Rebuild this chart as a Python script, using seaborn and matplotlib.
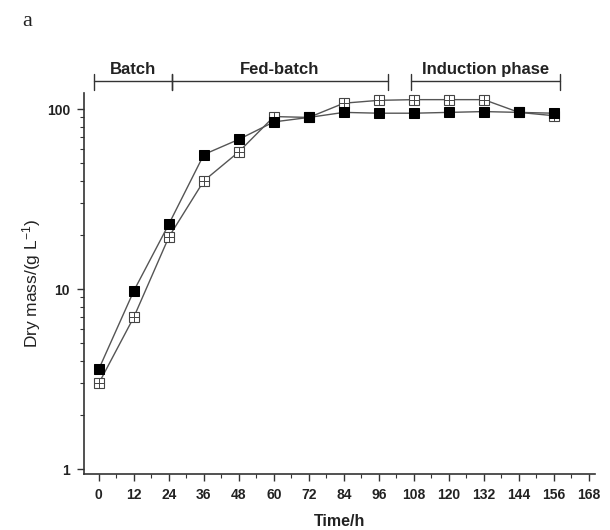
import matplotlib
matplotlib.use("Agg")
import matplotlib.pyplot as plt
import matplotlib.ticker as mticker
import matplotlib.transforms as mtrans
import seaborn as sns
import pandas as pd
import numpy as np

time_h = [0, 12, 24, 36, 48, 60, 72, 84, 96, 108, 120, 132, 144, 156]
series_filled = [3.6, 9.8, 23, 56, 68, 85, 90, 96, 95, 95, 96, 97, 96, 95]
series_open = [3.0, 7.0, 19.5, 40, 58, 91, 90, 108, 112, 113, 113, 113, 96, 92]
x_ticks = list(range(0, 169, 12))
phases = ["Batch", "Fed-batch", "Induction phase"]
phase_spans = [(-1.5, 25), (25, 99), (107, 158)]

sns.set_theme(style="ticks")
plt.rcParams['font.family'] = ['Liberation Sans', 'DejaVu Sans']
plt.rcParams['mathtext.fontset'] = 'custom'
plt.rcParams['mathtext.rm'] = 'Liberation Sans'
plt.rcParams['mathtext.it'] = 'Liberation Sans'

fig = plt.figure(figsize=(6.1, 5.3), dpi=100)
ax = fig.add_axes([0.1377, 0.1057, 0.975 - 0.1377, 0.8245 - 0.1057])

df = pd.DataFrame({"Time": time_h + time_h,
                   "Mass": series_filled + series_open,
                   "Series": ["filled"] * len(time_h) + ["open"] * len(time_h)})

line_col = "#555555"
sns.lineplot(data=df[df.Series == "filled"], x="Time", y="Mass", ax=ax,
             color=line_col, lw=1.0, marker="s", markersize=6.5,
             markerfacecolor="black", markeredgecolor="black", zorder=3)
sns.lineplot(data=df[df.Series == "open"], x="Time", y="Mass", ax=ax,
             color=line_col, lw=1.0, marker="s", markersize=6.5,
             markerfacecolor="white", markeredgecolor="#444444",
             markeredgewidth=0.8, zorder=2)
ax.plot(df[df.Series == "open"].Time, df[df.Series == "open"].Mass,
        ls="none", marker="+", markersize=6.5, color="#444444",
        markeredgewidth=0.7, zorder=2.5)

ax.set_yscale("log")
ax.set_ylim(0.94, 123)
ax.set_xlim(-5.1, 170)
ax.set_xticks(x_ticks)
ax.xaxis.set_minor_locator(mticker.MultipleLocator(6))
ax.yaxis.set_major_locator(mticker.FixedLocator([1, 10, 100]))
ax.yaxis.set_major_formatter(mticker.FixedFormatter(["1", "10", "100"]))
ax.yaxis.set_minor_locator(mticker.LogLocator(base=10, subs=np.arange(2, 10)))
ax.yaxis.set_minor_formatter(mticker.NullFormatter())

for s in ["top", "right"]:
    ax.spines[s].set_visible(False)
for s in ["left", "bottom"]:
    ax.spines[s].set_color("#333333")
    ax.spines[s].set_linewidth(1.2)

ax.tick_params(axis="both", which="major", direction="out", length=5,
               width=1.0, color="#333333", labelsize=10, pad=5)
ax.tick_params(axis="both", which="minor", direction="out", length=3,
               width=0.8, color="#333333")
for lbl in ax.get_xticklabels() + ax.get_yticklabels():
    lbl.set_fontweight("bold")
    lbl.set_color("#222222")

ax.set_xlabel("Time/h", fontsize=11.5, fontweight="bold", color="#222222")
ax.set_ylabel(r"Dry mass/(g L$^{-1}$)", fontsize=12.5, color="#222222")
ax.xaxis.set_label_coords(0.5, -0.105)
ax.yaxis.set_label_coords(-0.080, 0.5)

# phase brackets above the axes
trans = mtrans.blended_transform_factory(ax.transData, fig.transFigure)
y_line = 1 - 81 / 530
for name, (x0, x1) in zip(phases, phase_spans):
    ax.plot([x0, x1], [y_line, y_line], transform=trans, color="#333333",
            lw=1.0, clip_on=False)
    for xe in (x0, x1):
        ax.plot([xe, xe], [y_line + 7 / 530, y_line - 9 / 530], transform=trans,
                color="#333333", lw=1.0, clip_on=False)
    ax.text((x0 + x1) / 2, y_line + 4 / 530, name, transform=trans,
            ha="center", va="bottom", fontsize=12, fontweight="bold",
            color="#222222")

fig.text(22 / 610, 1 - 22 / 530, "a", fontsize=16, family="Liberation Serif",
         ha="left", va="center", color="#222222")

fig.savefig("out.png", dpi=100, facecolor="white")
